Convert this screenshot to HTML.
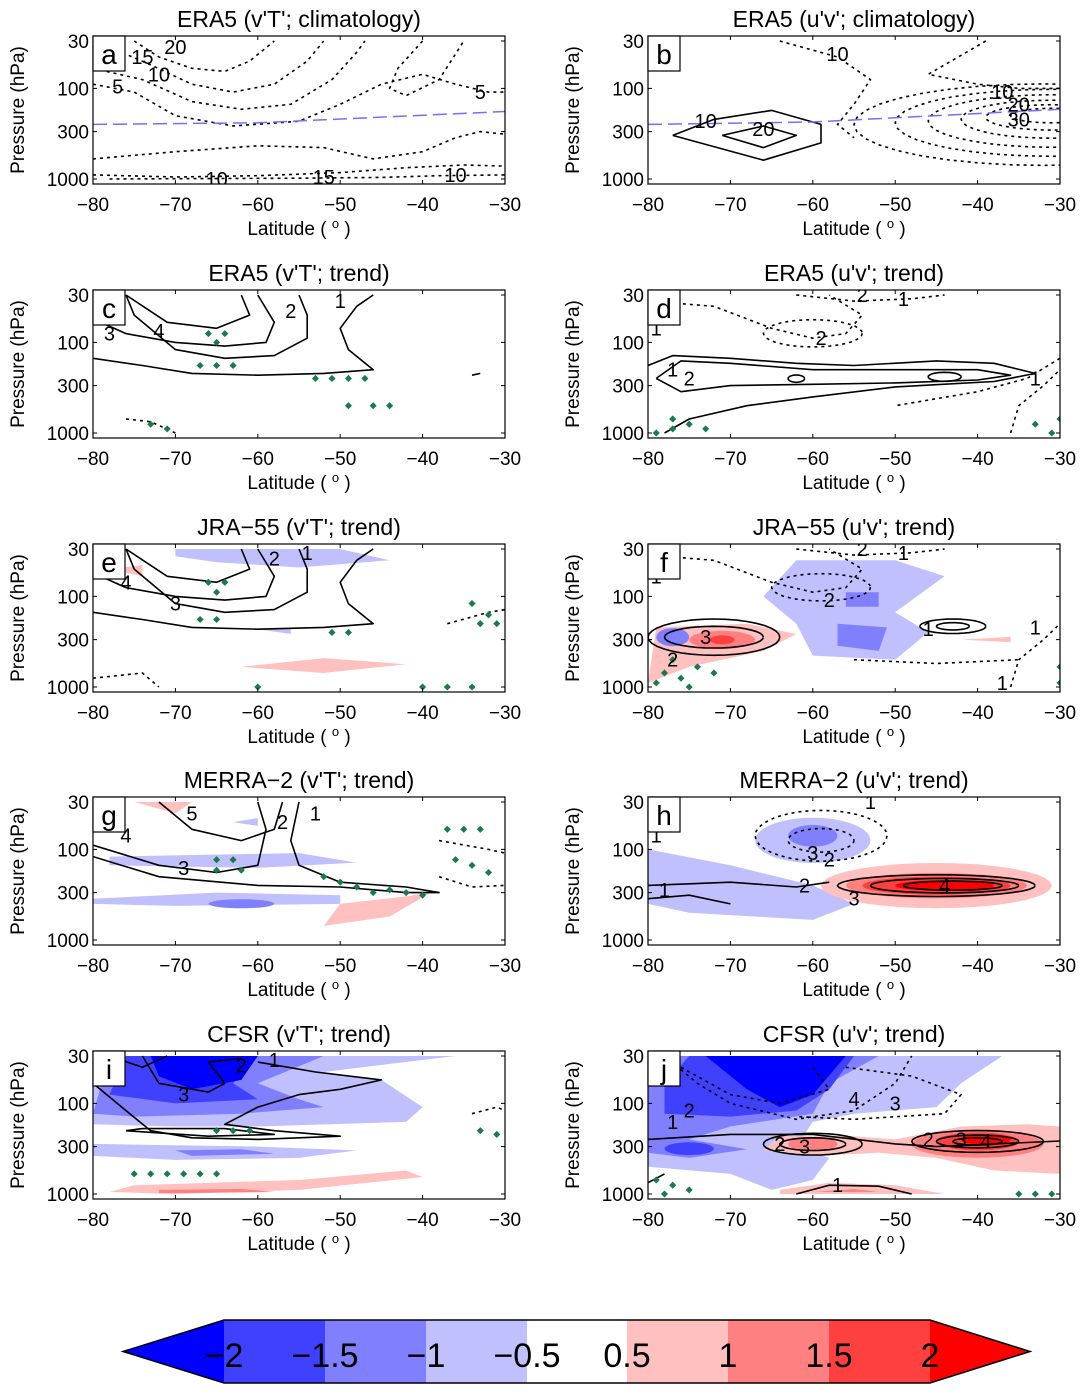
<!DOCTYPE html>
<html><head><meta charset="utf-8">
<style>
body{margin:0;background:#fff;}
svg{display:block;font-family:"Liberation Sans",sans-serif;}
</style></head>
<body>
<svg id="fig" width="1086" height="1391" viewBox="0 0 1086 1391"></svg>
<script>
// ---------- data ----------
const xTicks=[-80,-70,-60,-50,-40,-30];
const pTicks=[30,100,300,1000];
const cbLevels=["-2","-1.5","-1","-0.5","0.5","1","1.5","2"];
const cbColors=["#0000ff","#4040ff","#8080ff","#c0c0ff","#ffffff","#ffc0c0","#ff8080","#ff4040","#ff0000"];
const lvlColor={"-4":"#0000ff","-3":"#4040ff","-2":"#8080ff","-1":"#c0c0ff","1":"#ffc0c0","2":"#ff8080","3":"#ff4040","4":"#ff0000"};
const panelTitles=["ERA5 (v'T'; climatology)","ERA5 (u'v'; climatology)","ERA5 (v'T'; trend)","ERA5 (u'v'; trend)","JRA\u221255 (v'T'; trend)","JRA\u221255 (u'v'; trend)","MERRA\u22122 (v'T'; trend)","MERRA\u22122 (u'v'; trend)","CFSR (v'T'; trend)","CFSR (u'v'; trend)"];
const panelLetters=["a","b","c","d","e","f","g","h","i","j"];
function E(lat,lp,rl,rp){const o=[];for(let i=0;i<=36;i++){const t=i/36*2*Math.PI;o.push([lat+rl*Math.cos(t),Math.pow(10,lp+rp*Math.sin(t))]);}return o;}
const vtBase=[
 [[-80,150],[-74,180],[-68,220],[-60,230],[-52,220],[-46,200],[-49,120],[-50,70],[-48,40],[-46,30]],
 [[-76,30],[-75,50],[-70,120],[-64,150],[-58,140],[-54,90],[-54,50],[-55,30]],
 [[-80,55],[-76,80],[-70,100],[-64,110],[-59,100],[-58,60],[-60,30]],
 [[-76,30],[-71,60],[-65,70],[-61,50],[-62,30]]];
const panelShades=[
 [],[],[],[],
 [{c:-1,p:[[-70,30],[-50,30],[-44,40],[-55,48],[-65,42],[-70,36]]},{c:1,p:[[-62,600],[-52,480],[-42,560],[-52,700]]},{c:1,p:[[-78,50],[-74,45],[-74,60]]},{c:-1,p:[[-60,230],[-56,220],[-56,260]]}],
 [{c:-1,p:[[-62,40],[-50,40],[-44,60],[-50,150],[-46,250],[-50,500],[-60,450],[-62,200],[-66,100]]},{c:-2,p:[[-57,200],[-51,220],[-52,400],[-57,350]]},{c:-2,p:[[-56,90],[-52,90],[-52,130],[-56,130]]},{c:1,p:[[-79,220],[-68,200],[-62,260],[-66,400],[-75,600],[-80,900]]},{c:2,p:E(-71,2.48,4,0.1)},{c:3,p:E(-71,2.48,1.5,0.05)},{c:-2,p:E(-77,2.45,2,0.1)},{c:1,p:[[-42,300],[-36,280],[-36,320]]}],
 [{c:-1,p:[[-80,350],[-65,300],[-50,320],[-50,400],[-70,420],[-80,400]]},{c:-2,p:E(-62,2.6,4,0.05)},{c:-1,p:[[-78,120],[-55,110],[-48,140],[-60,160],[-78,150]]},{c:1,p:[[-50,400],[-42,330],[-39,300],[-44,550],[-52,700]]},{c:1,p:[[-75,30],[-68,30],[-70,40]]},{c:-1,p:[[-63,50],[-60,45],[-60,55]]}],
 [{c:-1,p:[[-80,100],[-70,150],[-60,250],[-55,400],[-60,600],[-75,500],[-80,400]]},{c:-1,p:E(-60,1.9,7,0.25)},{c:-2,p:E(-60,1.85,3,0.12)},{c:1,p:E(-45,2.4,14,0.25)},{c:2,p:E(-45,2.4,11,0.14)},{c:3,p:E(-45,2.4,9,0.1)},{c:4,p:E(-44,2.4,6,0.06)}],
 [{c:-1,p:[[-80,30],[-36,30],[-52,45],[-45,55],[-40,110],[-42,160],[-60,180],[-70,180],[-80,170]]},{c:-1,p:[[-80,280],[-60,300],[-48,330],[-55,400],[-70,420],[-80,380]]},{c:-2,p:[[-78,30],[-52,30],[-60,60],[-55,90],[-52,110],[-62,130],[-75,140],[-80,130]]},{c:-2,p:[[-70,330],[-62,320],[-58,360],[-68,380]]},{c:-3,p:[[-76,30],[-60,30],[-63,60],[-60,90],[-70,100],[-78,80]]},{c:-4,p:[[-73,30],[-60,30],[-62,55],[-68,70],[-72,50]]},{c:1,p:[[-75,800],[-55,700],[-42,550],[-40,650],[-55,900],[-70,1000],[-78,950]]},{c:2,p:[[-72,900],[-62,880],[-58,950],[-72,980]]}],
 [{c:-1,p:[[-80,30],[-37,30],[-42,60],[-45,110],[-55,130],[-60,160],[-62,300],[-58,400],[-60,700],[-65,900],[-70,600],[-80,500]]},{c:-2,p:[[-80,30],[-52,30],[-58,60],[-60,130],[-70,180],[-75,250],[-68,320],[-75,400],[-80,350]]},{c:-3,p:[[-75,30],[-55,30],[-58,70],[-62,120],[-70,140],[-78,130],[-78,60]]},{c:-3,p:E(-75,2.5,3,0.07)},{c:-4,p:[[-73,30],[-56,30],[-60,80],[-64,110],[-68,70]]},{c:1,p:[[-64,230],[-55,230],[-50,250],[-42,180],[-34,170],[-30,180],[-30,600],[-38,550],[-45,400],[-52,350],[-60,380],[-66,330]]},{c:2,p:E(-60,2.45,3,0.08)},{c:2,p:E(-40,2.45,8,0.15)},{c:3,p:E(-40,2.42,5,0.1)},{c:4,p:E(-39,2.4,3,0.06)},{c:1,p:[[-64,900],[-58,750],[-50,800],[-44,1000],[-64,1000]]},{c:2,p:[[-60,950],[-55,880],[-52,950]]}]
];
const panelLines=[
 [{d:1,p:[[-75,30],[-72,45],[-68,60],[-64,65],[-61,50],[-58,30]]},{d:1,p:[[-78,35],[-73,55],[-68,90],[-63,110],[-58,90],[-54,50],[-52,30]]},{d:1,p:[[-80,60],[-74,80],[-68,140],[-62,170],[-56,150],[-51,80],[-48,40],[-47,30]]},{d:1,p:[[-80,90],[-75,110],[-70,200],[-63,260],[-55,230],[-50,150],[-45,90],[-40,70],[-36,90],[-32,110],[-30,110]]},{d:1,p:[[-80,600],[-70,500],[-60,430],[-52,450],[-46,600],[-40,500],[-36,350],[-33,300],[-30,320]]},{d:1,p:[[-40,30],[-43,60],[-44,100],[-42,120],[-38,80],[-35,30]]},{d:1,p:[[-80,900],[-70,950],[-60,920],[-50,850],[-42,750],[-35,700],[-30,720]]},{d:1,p:[[-78,1000],[-68,990],[-55,980],[-45,960],[-38,920],[-30,900]]},{b:1,p:[[-80,250],[-60,240],[-30,180]]}],
 [{d:0,p:[[-77,330],[-72,220],[-65,175],[-59,250],[-59,400],[-66,620],[-77,330]]},{d:0,p:[[-71,330],[-66,260],[-62,330],[-66,450],[-71,330]]},{d:1,p:E(-32,2.4,23,0.45)},{d:1,p:E(-31,2.38,19,0.37)},{d:1,p:E(-31,2.36,15,0.29)},{d:1,p:E(-31,2.34,11,0.21)},{d:1,p:E(-31,2.32,8,0.14)},{d:1,p:E(-31,2.3,5,0.08)},{d:1,p:[[-64,30],[-57,45],[-53,80],[-55,150],[-57,250],[-55,350]]},{d:1,p:[[-39,30],[-46,70],[-40,90],[-35,100],[-30,100]]},{b:1,p:[[-80,250],[-60,235],[-30,170]]}],
 [...vtBase.map(p=>({d:0,p})),{d:1,p:[[-76,700],[-73,750],[-70,1000]]},{d:0,p:[[-34,230],[-33,220]]}],
 [{d:1,p:[[-80,35],[-72,40],[-65,70],[-60,90],[-56,80],[-54,50],[-58,30]]},{d:1,p:E(-60,1.9,6,0.15)},{d:1,p:[[-62,30],[-55,35],[-48,33],[-44,30]]},{d:0,p:[[-79,250],[-76,160],[-70,170],[-60,200],[-50,200],[-40,200],[-36,230],[-40,260],[-50,280],[-60,290],[-70,300],[-76,350],[-79,250]]},{d:0,p:[[-80,180],[-77,140],[-70,150],[-62,170],[-55,180],[-45,160],[-38,170],[-33,220],[-38,270],[-50,310],[-60,400],[-68,500],[-75,700],[-78,1000]]},{d:0,p:E(-44,2.38,2,0.05)},{d:0,p:E(-62,2.4,1,0.04)},{d:1,p:[[-36,1000],[-35,500],[-32,300],[-30,200]]},{d:1,p:[[-30,150],[-34,250],[-40,350],[-50,500]]}],
 [...vtBase.map(p=>({d:0,p})),{d:1,p:[[-80,800],[-74,700],[-72,1000]]},{d:1,p:[[-37,200],[-32,150],[-30,140]]}],
 [{d:1,p:[[-80,35],[-72,40],[-65,70],[-60,90],[-56,80],[-54,50],[-58,30]]},{d:1,p:E(-59,1.9,6,0.15)},{d:1,p:[[-62,30],[-55,35],[-48,33],[-44,30]]},{d:0,p:E(-72,2.45,8,0.2)},{d:0,p:E(-72,2.45,6,0.12)},{d:0,p:E(-43,2.33,4,0.08)},{d:0,p:E(-43,2.33,2,0.04)},{d:1,p:[[-36,1000],[-35,500],[-32,300],[-30,200]]},{d:1,p:[[-55,500],[-45,550],[-35,500]]}],
 [{d:0,p:[[-80,120],[-72,200],[-60,250],[-50,260],[-42,300],[-38,300],[-42,260],[-50,230],[-55,150],[-56,80],[-55,30]]},{d:0,p:[[-72,30],[-68,60],[-62,80],[-58,60],[-57,30]]},{d:0,p:[[-80,90],[-72,150],[-65,180],[-60,150],[-59,60],[-60,30]]},{d:1,p:[[-38,80],[-32,100],[-30,110]]},{d:1,p:[[-38,200],[-34,260],[-30,250]]}],
 [{d:1,p:E(-59,1.85,8,0.28)},{d:1,p:E(-59,1.9,4,0.13)},{d:0,p:E(-45,2.4,12,0.12)},{d:0,p:E(-44,2.4,9,0.08)},{d:0,p:E(-43,2.4,6,0.05)},{d:0,p:[[-80,250],[-70,230],[-62,260],[-58,230]]},{d:0,p:[[-80,350],[-75,320],[-70,400]]}],
 [{d:0,p:[[-80,60],[-76,120],[-73,200],[-68,240],[-60,250],[-50,230],[-58,200],[-64,170],[-60,110],[-55,80],[-50,70],[-45,55],[-53,45],[-60,35]]},{d:0,p:[[-78,30],[-74,40],[-71,30]]},{d:0,p:[[-74,30],[-72,60],[-66,75],[-64,60],[-66,35],[-62,32]]},{d:0,p:[[-76,200],[-66,230],[-58,220],[-64,190],[-74,190],[-76,200]]},{d:1,p:[[-34,130],[-31,110],[-30,120]]}],
 [{d:1,p:[[-78,30],[-74,60],[-70,100],[-62,150],[-55,120],[-50,60],[-48,30]]},{d:1,p:[[-76,40],[-70,80],[-64,100],[-58,70],[-60,40]]},{d:1,p:[[-56,40],[-48,50],[-42,80],[-44,130],[-55,150],[-62,140]]},{d:0,p:E(-60,2.45,6,0.12)},{d:0,p:E(-60,2.45,4,0.07)},{d:0,p:E(-40,2.42,8,0.12)},{d:0,p:E(-40,2.42,5,0.07)},{d:0,p:E(-40,2.42,3,0.04)},{d:0,p:[[-80,250],[-70,220],[-60,220],[-50,280],[-45,300],[-30,260]]},{d:0,p:[[-62,1000],[-58,800],[-52,820],[-48,1000]]},{d:0,p:[[-78,600],[-80,750]]}]
];
const panelLabels=[
 [[-70,35,"20"],[-74,45,"15"],[-72,70,"10"],[-77,95,"5"],[-33,110,"5"],[-65,1000,"10"],[-52,950,"15"],[-36,900,"10"]],
 [[-57,42,"10"],[-73,230,"10"],[-66,280,"20"],[-37,110,"10"],[-35,150,"20"],[-35,220,"30"]],
 [[-78,80,"3"],[-72,75,"4"],[-56,45,"2"],[-50,35,"1"]],
 [[-54,30,"2"],[-49,33,"1"],[-79,70,"1"],[-59,90,"2"],[-77,200,"1"],[-75,250,"2"],[-33,250,"1"]],
 [[-76,70,"4"],[-70,120,"3"],[-58,38,"2"],[-54,33,"1"]],
 [[-54,30,"2"],[-49,33,"1"],[-79,60,"1"],[-58,110,"2"],[-73,280,"3"],[-77,500,"2"],[-46,230,"1"],[-33,220,"1"],[-37,900,"1"]],
 [[-68,40,"5"],[-76,70,"4"],[-69,160,"3"],[-57,50,"2"],[-53,40,"1"]],
 [[-53,30,"1"],[-79,70,"1"],[-60,110,"3"],[-58,130,"2"],[-78,280,"1"],[-61,250,"2"],[-44,250,"4"],[-55,350,"3"]],
 [[-69,80,"3"],[-62,38,"2"],[-58,33,"1"]],
 [[-75,120,"2"],[-77,160,"1"],[-55,90,"4"],[-50,100,"3"],[-64,280,"2"],[-61,300,"3"],[-46,250,"2"],[-42,250,"3"],[-39,260,"4"],[-57,800,"1"]]
];
const panelDots=[
 [],[],
 [[-66,80],[-64,80],[-65,100],[-67,180],[-65,180],[-63,180],[-53,250],[-51,250],[-49,250],[-47,250],[-49,500],[-46,500],[-44,500],[-73,800],[-71,900]],
 [[-79,1000],[-77,900],[-75,800],[-77,700],[-73,900],[-33,800],[-31,1000],[-30,700]],
 [[-66,70],[-64,70],[-65,90],[-67,180],[-65,180],[-51,250],[-49,250],[-40,1000],[-37,1000],[-34,1000],[-60,1000],[-34,120],[-32,160],[-31,200],[-33,200]],
 [[-78,700],[-76,800],[-74,600],[-72,700],[-79,900],[-75,1000],[-77,500],[-30,600],[-30,900]],
 [[-65,130],[-63,130],[-65,170],[-62,170],[-52,200],[-50,230],[-48,260],[-46,300],[-44,280],[-42,300],[-40,320],[-35,60],[-33,60],[-37,60],[-36,130],[-34,150],[-32,180]],
 [],
 [[-65,200],[-63,200],[-61,200],[-75,600],[-73,600],[-71,600],[-69,600],[-67,600],[-65,600],[-33,200],[-31,220]],
 [[-79,700],[-77,800],[-75,900],[-78,1000],[-35,1000],[-33,1000],[-31,1000]]
];
// ---------- drawing ----------
const NS="http://www.w3.org/2000/svg";
const svg=document.getElementById('fig');
function mk(tag,attrs,parent){const e=document.createElementNS(NS,tag);for(const k in attrs)e.setAttribute(k,attrs[k]);(parent||svg).appendChild(e);return e;}
const colX=[93,648],rowY=[36,290,544,797,1051],W=412,H=148;
const L30=Math.log10(30),L1000=3;
for(let i=0;i<10;i++){
  const x0=colX[i%2],y0=rowY[Math.floor(i/2)];
  const X=lat=>x0+(lat+80)/50*W;
  const Y=p=>y0+5+(Math.log10(p)-L30)/(L1000-L30)*(H-10);
  const g=mk('g',{});
  
  
  const cp=mk('clipPath',{id:'cp'+i},g);
  mk('rect',{x:x0,y:y0,width:W,height:H},cp);
  const plot=mk('g',{'clip-path':'url(#cp'+i+')'},g);
  const pts=a=>a.map(q=>X(q[0]).toFixed(1)+','+Y(q[1]).toFixed(1)).join(' ');
  panelShades[i].forEach(s=>{
    const e=mk('polygon',{points:pts(s.p),fill:lvlColor[s.c],stroke:'none'},plot);
    
    
  });
  panelLines[i].forEach(l=>{
    const e=mk('polyline',{points:pts(l.p),fill:'none',stroke:l.b?'#7070ff':'#000','stroke-width':l.b?1.5:1.6,'stroke-dasharray':l.b?'14,6':(l.d?'3,4':'none'),'stroke-linejoin':'round'},plot);
    
    
  });
  panelDots[i].forEach(d=>{
    const e=mk('rect',{x:X(d[0])-2.5,y:Y(d[1])-2.5,width:5,height:5,fill:'#1a7a4a',transform:'rotate(45 '+X(d[0])+' '+Y(d[1])+')'},plot);
    
    
  });
  panelLabels[i].forEach(t=>{
    const e=mk('text',{x:X(t[0]),y:Y(t[1])+7,'font-size':20,'text-anchor':'middle',fill:'#000'},plot);
    e.textContent=t[2];
    
    
  });
  const box=mk('rect',{x:x0,y:y0,width:W,height:H,fill:'none',stroke:'#000','stroke-width':1.2},g);
  
  
  xTicks.forEach(v=>{
    mk('line',{x1:X(v),x2:X(v),y1:y0+H,y2:y0+H-4,stroke:'#000'},g);
    mk('line',{x1:X(v),x2:X(v),y1:y0,y2:y0+4,stroke:'#000'},g);
    const t=mk('text',{x:X(v),y:y0+H+27,'font-size':19,'text-anchor':'middle'},g);
    t.textContent=(v<0?'\u2212':'')+Math.abs(v);
    
    
  });
  pTicks.forEach(v=>{
    mk('line',{x1:x0,x2:x0+4,y1:Y(v),y2:Y(v),stroke:'#000'},g);
    mk('line',{x1:x0+W,x2:x0+W-4,y1:Y(v),y2:Y(v),stroke:'#000'},g);
    const t=mk('text',{x:x0-4,y:Y(v)+7,'font-size':19,'text-anchor':'end'},g);
    t.textContent=v;
    
    
  });
  const xl=mk('text',{x:x0+W/2,y:y0+H+51,'font-size':19,'text-anchor':'middle'},g);
  xl.innerHTML='Latitude ( <tspan dy="-7" font-size="13">o</tspan><tspan dy="7"> )</tspan>';
  
  
  const yl=mk('text',{x:0,y:0,'font-size':19,'text-anchor':'middle',transform:'translate('+(x0-69)+','+(y0+H/2)+') rotate(-90)'},g);
  yl.textContent='Pressure (hPa)';
  
  
  const ti=mk('text',{x:x0+W/2,y:y0-9,'font-size':23,'text-anchor':'middle'},g);
  ti.textContent=panelTitles[i];
  
  
  const lb=mk('rect',{x:x0,y:y0,width:32,height:35,fill:'#fff',stroke:'#000','stroke-width':1.2},g);
  
  
  const lt=mk('text',{x:x0+16,y:y0+28,'font-size':28,'text-anchor':'middle'},g);
  lt.textContent=panelLetters[i];
  
  
}
// colorbar
const cb=mk('g',{});


const cy0=1320,cy1=1383,cx=[123,224,325,426,527,627,728,829,930,1030];
cbColors.forEach((c,k)=>{
  let e;
  if(k===0)e=mk('polygon',{points:`${cx[0]},${(cy0+cy1)/2} ${cx[1]},${cy0} ${cx[1]},${cy1}`,fill:c},cb);
  else if(k===cbColors.length-1)e=mk('polygon',{points:`${cx[k]},${cy0} ${cx[k+1]},${(cy0+cy1)/2} ${cx[k]},${cy1}`,fill:c},cb);
  else e=mk('rect',{x:cx[k],y:cy0,width:cx[k+1]-cx[k],height:cy1-cy0,fill:c},cb);
  
  
});
mk('polygon',{points:`${cx[0]},${(cy0+cy1)/2} ${cx[1]},${cy0} ${cx[8]},${cy0} ${cx[9]},${(cy0+cy1)/2} ${cx[8]},${cy1} ${cx[1]},${cy1}`,fill:'none',stroke:'#000','stroke-width':1.5},cb);
cbLevels.forEach((s,k)=>{
  const t=mk('text',{x:cx[k+1],y:1367,'font-size':34,'text-anchor':'middle'},cb);
  t.textContent=s.replace('-','\u2212');
  
  
});
</script>
</body></html>
